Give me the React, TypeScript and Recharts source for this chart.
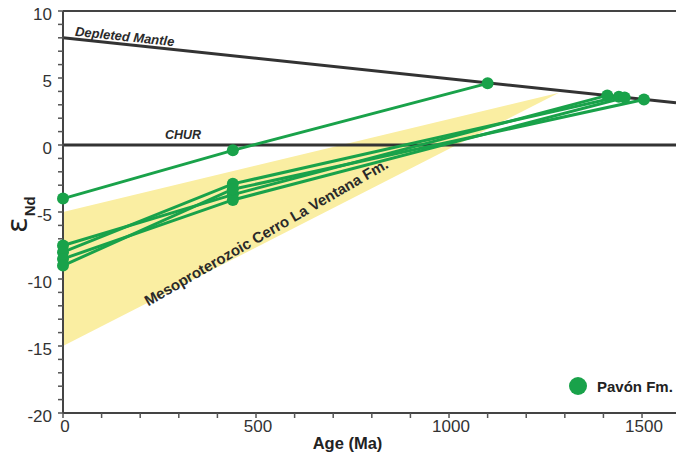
import React from "react";
import { ComposedChart, XAxis, YAxis, Line, Area, ReferenceDot, Legend } from "recharts";

// axis ticks
const ageTicks = [0, 100, 200, 300, 400, 500, 600, 700, 800, 900, 1000, 1100, 1200, 1300, 1400, 1500];
const ageLabels = [0, 500, 1000, 1500];
const epsTicks = [
  -20, -19, -18, -17, -16, -15, -14, -13, -12, -11, -10, -9, -8, -7, -6, -5, -4, -3, -2, -1, 0, 1, 2, 3, 4, 5, 6,
  7, 8, 9, 10,
];
const epsLabels = [-20, -15, -10, -5, 0, 5, 10];

// reference curves
const dmAges = [0, 1588];
const dmEps = [8.0, 3.15];
const churAges = [0, 1588];
const churEps = [0, 0];
const frameAges = [0, 1588];
const frameEps = [10, 10];

// Mesoproterozoic Cerro La Ventana field
const bandAges = [0, 1285];
const bandLow = [-15, 3.9];
const bandHigh = [-5, 3.9];

// Pavón Fm. samples: present day, 440 Ma, model age on DM
const sampleAges = [
  [0, 440, 1100],
  [0, 440, 1410],
  [0, 440, 1440],
  [0, 440, 1455],
  [0, 440, 1505],
];
const sampleEps = [
  [-4.0, -0.4, 4.6],
  [-7.5, -3.7, 3.7],
  [-8.0, -2.9, 3.6],
  [-8.5, -4.1, 3.55],
  [-9.0, -3.3, 3.4],
];

// annotations
const noteTexts = ["Depleted Mantle", "CHUR", "Mesoproterozoic Cerro La Ventana Fm."];
const noteAges = [160, 311, 526];
const noteEps = [8.1, 0.75, -6.5];

const GREEN = "#19a24a";
const DARK = "#333333";
const FONT = "'Liberation Sans', Arial, sans-serif";

const toPoints = (xs: number[], ys: number[]) => xs.map((x, i) => ({ x, y: ys[i] }));

const dmData = toPoints(dmAges, dmEps);
const churData = toPoints(churAges, churEps);
const frameData = toPoints(frameAges, frameEps);
const bandData = bandAges.map((x, i) => ({ x, range: [bandLow[i], bandHigh[i]] }));
const samples = sampleAges.map((xs, i) => toPoints(xs, sampleEps[i]));

function AgeTick(props: any) {
  const { x, y, payload } = props;
  if (!ageLabels.includes(payload.value)) return null;
  return (
    <text x={x + 2} y={y} dy={12} textAnchor="middle" fill="#333" fontSize={17} fontFamily={FONT}>
      {payload.value}
    </text>
  );
}

function EpsTick(props: any) {
  const { x, y, payload } = props;
  if (!epsLabels.includes(payload.value)) return null;
  return (
    <text x={x} y={y} dy={9} textAnchor="end" fill="#333" fontSize={17} fontFamily={FONT}>
      {payload.value}
    </text>
  );
}

function AgeTitle(props: any) {
  const vb = props.viewBox;
  return (
    <text
      x={vb.x + vb.width / 2 - 22}
      y={vb.y + 36}
      textAnchor="middle"
      fontSize={16.5}
      fontWeight="bold"
      fill="#222"
      fontFamily={FONT}
    >
      Age (Ma)
    </text>
  );
}

function EpsTitle(props: any) {
  const vb = props.viewBox;
  const x = vb.x + 27;
  const y = 233;
  return (
    <text x={x} y={y} transform={`rotate(-90, ${x}, ${y})`} fill="#222" fontFamily={FONT}>
      <tspan fontSize={29} fontFamily="'DejaVu Sans', sans-serif">
        ε
      </tspan>
      <tspan fontSize={15} fontWeight="bold" dy={8} dx={1}>
        Nd
      </tspan>
    </text>
  );
}

function Note(angle: number, size: number, italic: boolean) {
  return (props: any) => {
    const vb = props.viewBox;
    const cx = vb.x + vb.width / 2;
    const cy = vb.y + vb.height / 2;
    return (
      <text
        x={cx}
        y={cy}
        textAnchor="middle"
        dominantBaseline="central"
        transform={`rotate(${angle}, ${cx}, ${cy})`}
        fontSize={size}
        fontWeight="bold"
        fontStyle={italic ? "italic" : "normal"}
        fill="#2a2a2a"
        fontFamily={FONT}
      >
        {props.value}
      </text>
    );
  };
}

const noteStyles = [Note(6, 13, true), Note(0, 12.5, true), Note(-30, 15, false)];

function PavonLegend() {
  return (
    <div style={{ display: "flex", alignItems: "center", fontFamily: FONT }}>
      <svg width={20} height={20}>
        <circle cx={10} cy={10} r={9} fill={GREEN} />
      </svg>
      <span style={{ marginLeft: 9, fontSize: 15, fontWeight: "bold", color: "#222" }}>Pavón Fm.</span>
    </div>
  );
}

export default function App() {
  return (
    <div style={{ position: "absolute", left: 0, top: 0, width: 676, height: 459, background: "#fff" }}>
      <ComposedChart width={676} height={459} margin={{ top: 11, right: 0, left: 0, bottom: 0 }}>
        <XAxis
          type="number"
          dataKey="x"
          domain={[0, 1588]}
          ticks={ageTicks}
          interval={0}
          tick={<AgeTick />}
          tickSize={5}
          tickMargin={2}
          height={46}
          axisLine={{ stroke: "#444", strokeWidth: 2 }}
          tickLine={{ stroke: "#555", strokeWidth: 1.5 }}
          label={<AgeTitle />}
        />
        <YAxis
          type="number"
          domain={[-20, 10]}
          ticks={epsTicks}
          interval={0}
          tick={<EpsTick />}
          tickSize={5}
          tickMargin={6}
          width={63}
          axisLine={{ stroke: "#444", strokeWidth: 2 }}
          tickLine={{ stroke: "#555", strokeWidth: 1.5 }}
          label={<EpsTitle />}
        />
        <Area
          data={bandData}
          dataKey="range"
          type="linear"
          stroke="none"
          fill="#faeea2"
          fillOpacity={1}
          isAnimationActive={false}
        />
        <Line data={frameData} dataKey="y" stroke="#444" strokeWidth={2} dot={false} isAnimationActive={false} />
        <Line data={churData} dataKey="y" stroke={DARK} strokeWidth={3} dot={false} isAnimationActive={false} />
        <Line data={dmData} dataKey="y" stroke={DARK} strokeWidth={3} dot={false} isAnimationActive={false} />
        {samples.map((d, i) => (
          <Line
            key={i}
            data={d}
            dataKey="y"
            type="linear"
            stroke={GREEN}
            strokeWidth={3}
            dot={{ r: 6, fill: GREEN, stroke: GREEN, strokeWidth: 0 }}
            isAnimationActive={false}
          />
        ))}
        {noteTexts.map((t, i) => (
          <ReferenceDot
            key={t}
            x={noteAges[i]}
            y={noteEps[i]}
            r={0}
            fill="none"
            stroke="none"
            label={{ value: t, content: noteStyles[i] }}
          />
        ))}
        <Legend
          layout="horizontal"
          verticalAlign="middle"
          align="center"
          wrapperStyle={{ left: 568, top: 376, width: 110 }}
          content={() => <PavonLegend />}
        />
      </ComposedChart>
    </div>
  );
}
